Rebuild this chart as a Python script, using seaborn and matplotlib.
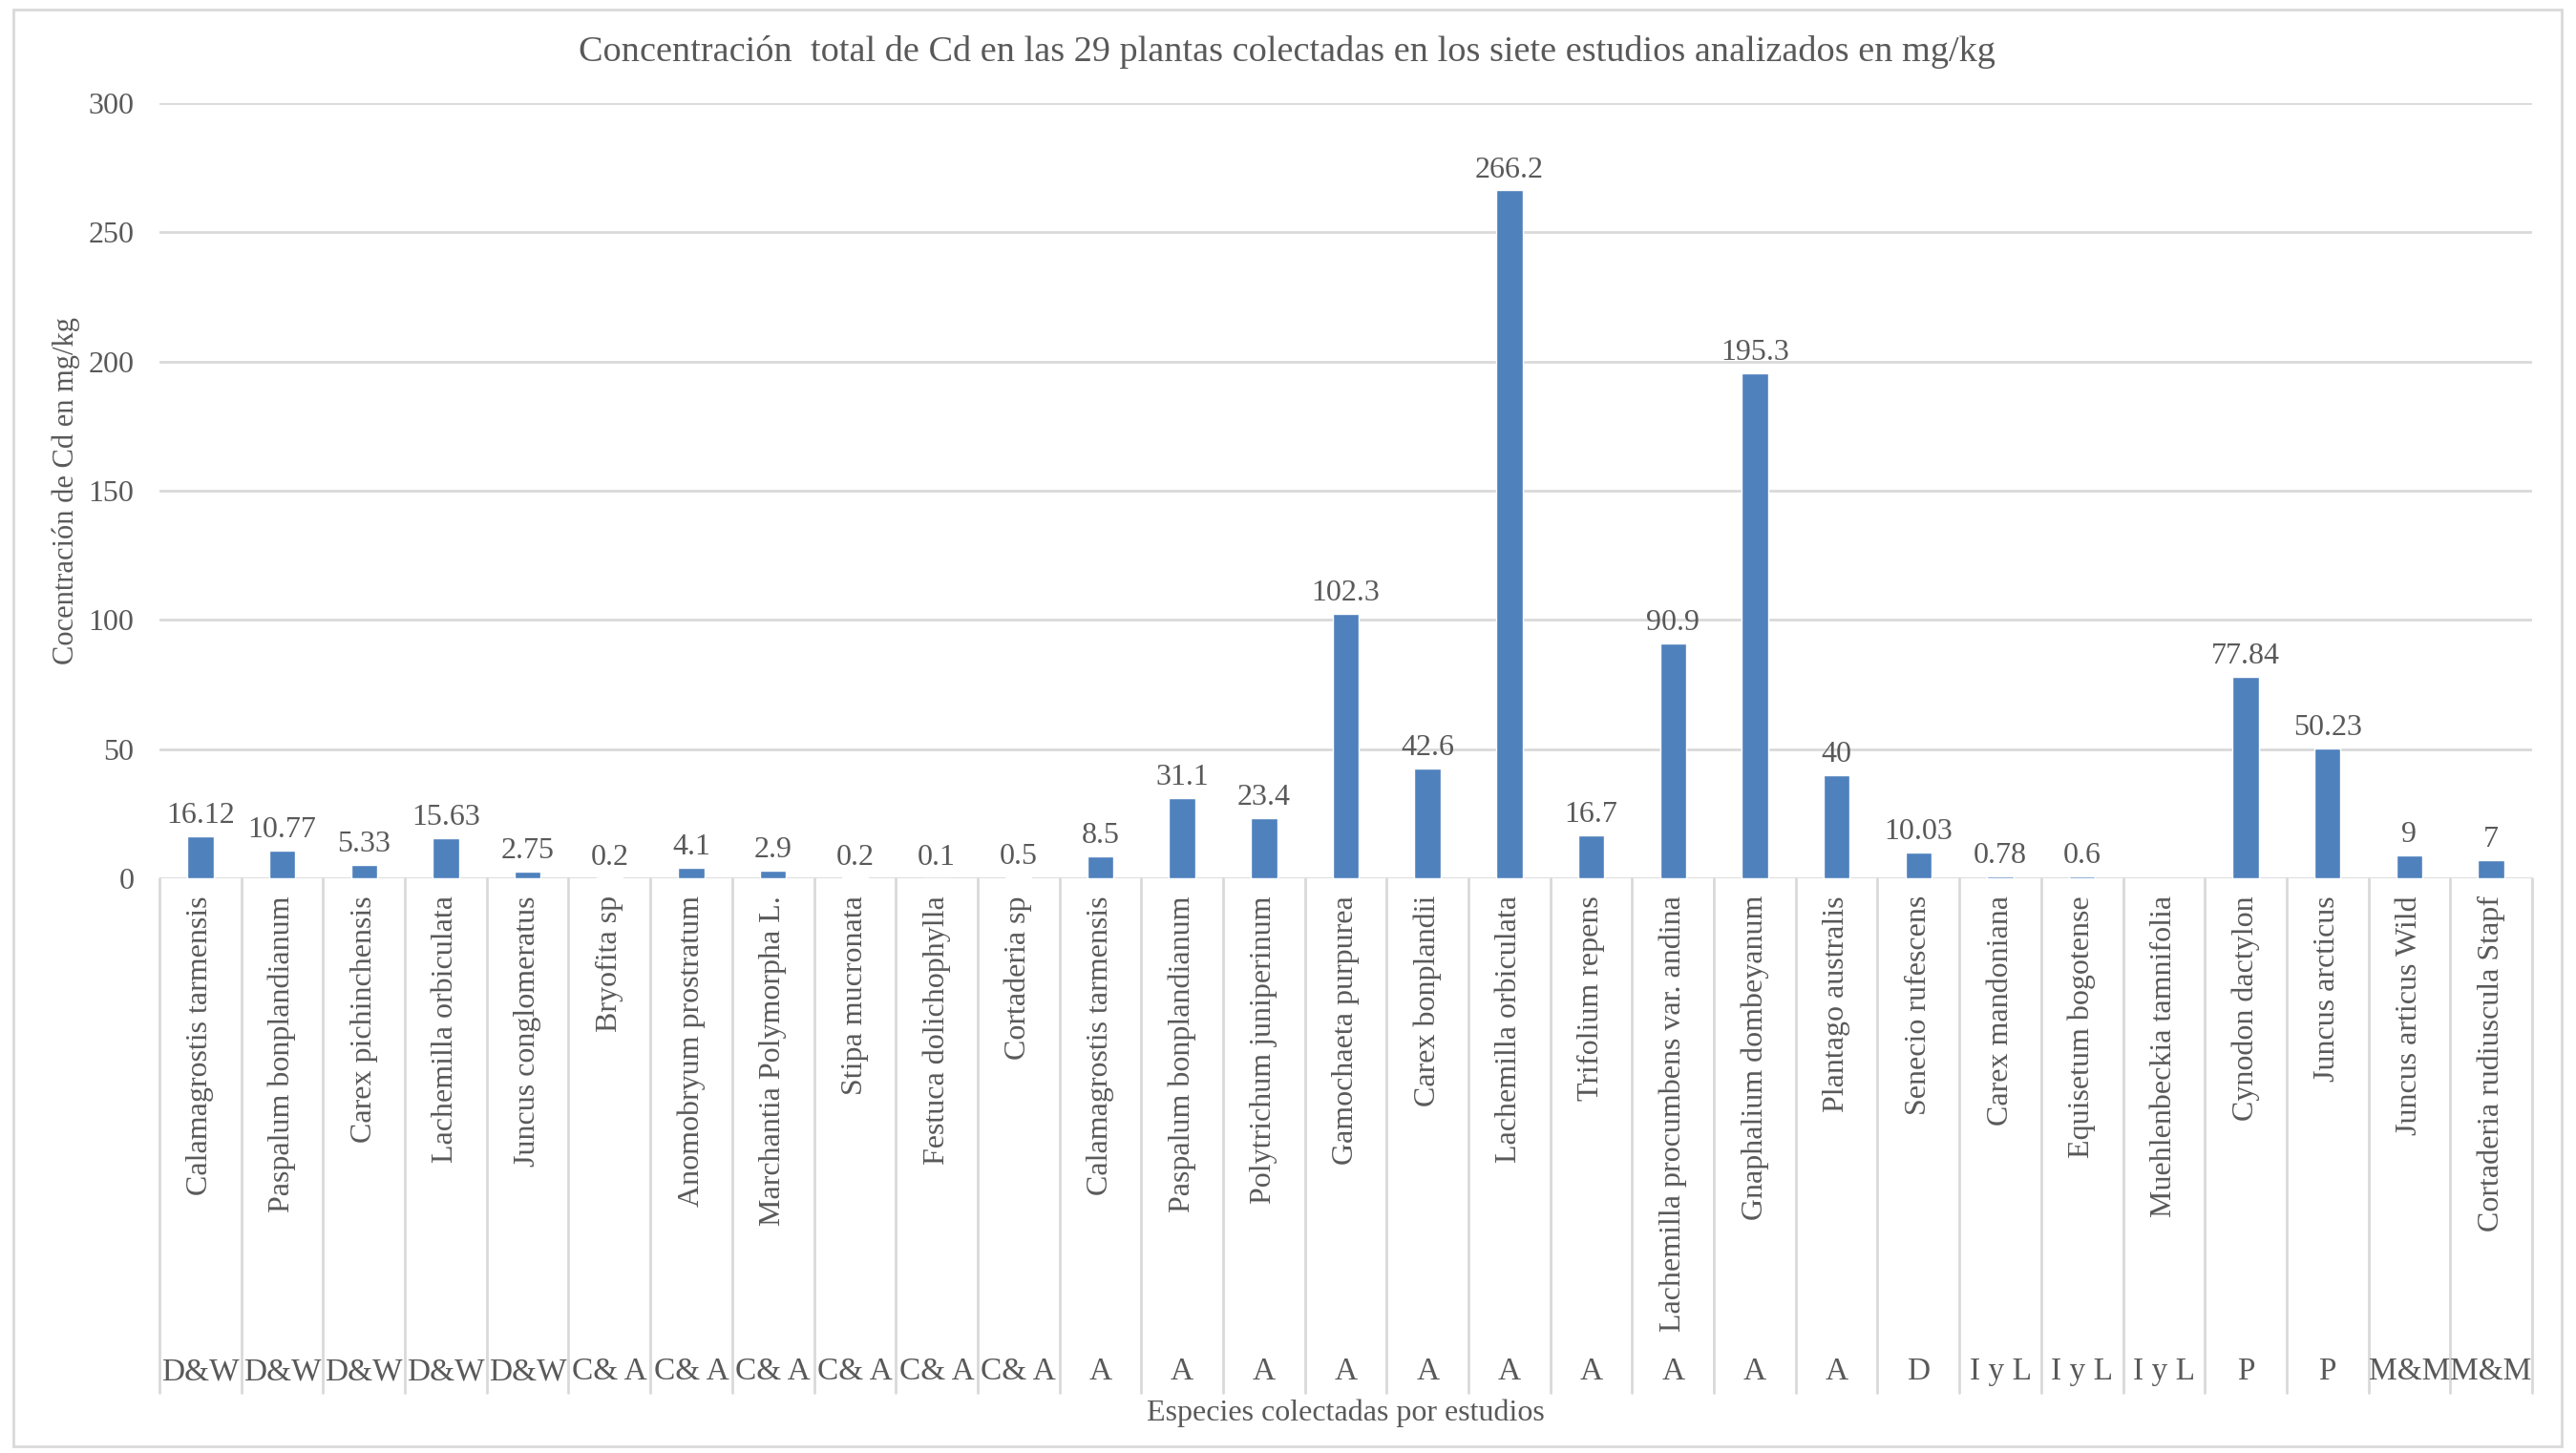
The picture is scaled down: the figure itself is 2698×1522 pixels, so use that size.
import matplotlib
matplotlib.use("Agg")
import matplotlib.pyplot as plt
import matplotlib.transforms as mtransforms
from matplotlib.patches import Rectangle
import numpy as np
import pandas as pd
import seaborn as sns

# Data
species = [
    "Calamagrostis tarmensis", "Paspalum bonplandianum", "Carex pichinchensis",
    "Lachemilla orbiculata", "Juncus conglomeratus", "Bryofita sp",
    "Anomobryum prostratum", "Marchantia Polymorpha L.", "Stipa mucronata",
    "Festuca dolichophylla", "Cortaderia sp", "Calamagrostis tarmensis",
    "Paspalum bonplandianum", "Polytrichum juniperinum", "Gamochaeta purpurea",
    "Carex bonplandii", "Lachemilla orbiculata", "Trifolium repens",
    "Lachemilla procumbens var. andina", "Gnaphalium dombeyanum",
    "Plantago australis", "Senecio rufescens", "Carex mandoniana",
    "Equisetum bogotense", "Muehlenbeckia tamnifolia", "Cynodon dactylon",
    "Juncus arcticus", "Juncus articus Wild", "Cortaderia rudiuscula Stapf",
]
studies = [
    "D&W", "D&W", "D&W", "D&W", "D&W",
    "C& A", "C& A", "C& A", "C& A", "C& A", "C& A",
    "A", "A", "A", "A", "A", "A", "A", "A", "A", "A",
    "D", "I y L", "I y L", "I y L", "P", "P", "M&M", "M&M",
]
cd_values = [
    16.12, 10.77, 5.33, 15.63, 2.75, 0.2, 4.1, 2.9, 0.2, 0.1, 0.5,
    8.5, 31.1, 23.4, 102.3, 42.6, 266.2, 16.7, 90.9, 195.3, 40,
    10.03, 0.78, 0.6, np.nan, 77.84, 50.23, 9, 7,
]

df = pd.DataFrame({"pos": np.arange(len(species)), "cd": cd_values})

sns.set_style("white")
plt.rcParams["font.family"] = ["Liberation Serif", "DejaVu Serif"]
text_color = "#595959"
grid_color = "#D9D9D9"
bar_color = "#4F81BD"

W, H = 2698, 1522
fig = plt.figure(figsize=(W / 100, H / 100), dpi=100)
ax = fig.add_axes([167 / W, 1 - 920 / H, (2652 - 167) / W, (920 - 108) / H])

order = list(range(len(species)))
sns.barplot(data=df, x="pos", y="cd", order=order, color=bar_color,
            saturation=1, width=0.32, ax=ax)

ax.set_ylim(0, 300)
ax.set_xlim(-0.5, len(species) - 0.5)
ax.set_yticks(np.arange(0, 301, 50))
ax.yaxis.grid(True, color=grid_color, linewidth=2)
ax.set_axisbelow(True)
for s in ax.spines.values():
    s.set_visible(False)
ax.tick_params(axis="y", length=0, pad=19, labelsize=23, labelcolor=text_color)
ax.tick_params(axis="x", length=0, pad=13, labelsize=23, labelcolor=text_color)
ax.set_xticks(order)
ax.set_xticklabels(species, rotation=90, va="top", ha="center")
ax.set_xlabel("")
ax.set_ylabel("")

# value labels
for i, v in enumerate(cd_values):
    if np.isnan(v):
        continue
    ax.annotate(f"{v:g}", xy=(i, v), xytext=(0, 5), textcoords="offset points",
                ha="center", va="bottom", fontsize=23, color=text_color)

# category separators and study labels
trans = mtransforms.blended_transform_factory(ax.transData, ax.transAxes)
y_sep = (920 - 1459) / (920 - 108)
for k in range(len(species) + 1):
    ax.plot([k - 0.5, k - 0.5], [0, y_sep], transform=trans, color=grid_color,
            linewidth=2, clip_on=False)
y_grp = (920 - 1437) / (920 - 108)
for i, g in enumerate(studies):
    ax.text(i, y_grp, g, transform=trans, ha="center", va="center",
            fontsize=24, color=text_color)

fig.text(1348 / W, 1 - 55 / H,
         "Concentración  total de Cd en las 29 plantas colectadas en los siete estudios analizados en mg/kg",
         ha="center", va="center", fontsize=27.5, color=text_color)
fig.text(69 / W, 1 - 514 / H, "Cocentración de Cd en mg/kg", rotation=90,
         ha="center", va="center", fontsize=22, color=text_color)
fig.text((167 + 2652) / 2 / W, 1 - 1480 / H, "Especies colectadas por estudios",
         ha="center", va="center", fontsize=23, color=text_color)

fig.patches.append(Rectangle((14 / W, 1 - 1515 / H), (2683 - 14) / W, (1515 - 10) / H,
                             transform=fig.transFigure, fill=False,
                             edgecolor=grid_color, linewidth=2))

fig.savefig("out.png", dpi=100)
